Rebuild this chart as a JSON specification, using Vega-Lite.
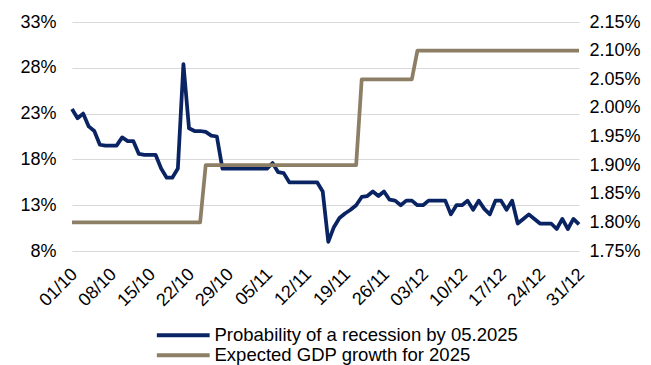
{
  "$schema": "https://vega.github.io/schema/vega-lite/v6.json",
  "width": 507,
  "height": 229,
  "autosize": {"type": "none"},
  "padding": {"left": 72, "top": 22, "right": 72, "bottom": 114},
  "background": "white",
  "config": {
    "view": {"stroke": null},
    "font": "Liberation Sans",
    "axis": {"labelFont": "Liberation Sans", "labelFontSize": 18, "labelColor": "#000000", "title": null, "ticks": false}
  },
  "data": {
    "values": [
      {"d": "2024/10/01", "rec": 23.5, "gdp": 1.80},
      {"d": "2024/10/02", "rec": 22.5, "gdp": 1.80},
      {"d": "2024/10/03", "rec": 23.0, "gdp": 1.80},
      {"d": "2024/10/04", "rec": 21.6, "gdp": 1.80},
      {"d": "2024/10/05", "rec": 21.1, "gdp": 1.80},
      {"d": "2024/10/06", "rec": 19.6, "gdp": 1.80},
      {"d": "2024/10/07", "rec": 19.5, "gdp": 1.80},
      {"d": "2024/10/08", "rec": 19.5, "gdp": 1.80},
      {"d": "2024/10/09", "rec": 19.5, "gdp": 1.80},
      {"d": "2024/10/10", "rec": 20.4, "gdp": 1.80},
      {"d": "2024/10/11", "rec": 20.0, "gdp": 1.80},
      {"d": "2024/10/12", "rec": 20.0, "gdp": 1.80},
      {"d": "2024/10/13", "rec": 18.6, "gdp": 1.80},
      {"d": "2024/10/14", "rec": 18.5, "gdp": 1.80},
      {"d": "2024/10/15", "rec": 18.5, "gdp": 1.80},
      {"d": "2024/10/16", "rec": 18.5, "gdp": 1.80},
      {"d": "2024/10/17", "rec": 17.0, "gdp": 1.80},
      {"d": "2024/10/18", "rec": 16.0, "gdp": 1.80},
      {"d": "2024/10/19", "rec": 16.0, "gdp": 1.80},
      {"d": "2024/10/20", "rec": 17.0, "gdp": 1.80},
      {"d": "2024/10/21", "rec": 28.4, "gdp": 1.80},
      {"d": "2024/10/22", "rec": 21.4, "gdp": 1.80},
      {"d": "2024/10/23", "rec": 21.1, "gdp": 1.80},
      {"d": "2024/10/24", "rec": 21.1, "gdp": 1.80},
      {"d": "2024/10/25", "rec": 21.0, "gdp": 1.90},
      {"d": "2024/10/26", "rec": 20.6, "gdp": 1.90},
      {"d": "2024/10/27", "rec": 20.5, "gdp": 1.90},
      {"d": "2024/10/28", "rec": 17.0, "gdp": 1.90},
      {"d": "2024/10/29", "rec": 17.0, "gdp": 1.90},
      {"d": "2024/10/30", "rec": 17.0, "gdp": 1.90},
      {"d": "2024/10/31", "rec": 17.0, "gdp": 1.90},
      {"d": "2024/11/01", "rec": 17.0, "gdp": 1.90},
      {"d": "2024/11/02", "rec": 17.0, "gdp": 1.90},
      {"d": "2024/11/03", "rec": 17.0, "gdp": 1.90},
      {"d": "2024/11/04", "rec": 17.0, "gdp": 1.90},
      {"d": "2024/11/05", "rec": 17.0, "gdp": 1.90},
      {"d": "2024/11/06", "rec": 17.6, "gdp": 1.90},
      {"d": "2024/11/07", "rec": 16.6, "gdp": 1.90},
      {"d": "2024/11/08", "rec": 16.5, "gdp": 1.90},
      {"d": "2024/11/09", "rec": 15.5, "gdp": 1.90},
      {"d": "2024/11/10", "rec": 15.5, "gdp": 1.90},
      {"d": "2024/11/11", "rec": 15.5, "gdp": 1.90},
      {"d": "2024/11/12", "rec": 15.5, "gdp": 1.90},
      {"d": "2024/11/13", "rec": 15.5, "gdp": 1.90},
      {"d": "2024/11/14", "rec": 15.5, "gdp": 1.90},
      {"d": "2024/11/15", "rec": 14.5, "gdp": 1.90},
      {"d": "2024/11/16", "rec": 9.0, "gdp": 1.90},
      {"d": "2024/11/17", "rec": 10.6, "gdp": 1.90},
      {"d": "2024/11/18", "rec": 11.6, "gdp": 1.90},
      {"d": "2024/11/19", "rec": 12.1, "gdp": 1.90},
      {"d": "2024/11/20", "rec": 12.5, "gdp": 1.90},
      {"d": "2024/11/21", "rec": 13.0, "gdp": 1.90},
      {"d": "2024/11/22", "rec": 13.9, "gdp": 2.05},
      {"d": "2024/11/23", "rec": 14.0, "gdp": 2.05},
      {"d": "2024/11/24", "rec": 14.5, "gdp": 2.05},
      {"d": "2024/11/25", "rec": 14.0, "gdp": 2.05},
      {"d": "2024/11/26", "rec": 14.5, "gdp": 2.05},
      {"d": "2024/11/27", "rec": 13.6, "gdp": 2.05},
      {"d": "2024/11/28", "rec": 13.5, "gdp": 2.05},
      {"d": "2024/11/29", "rec": 13.0, "gdp": 2.05},
      {"d": "2024/11/30", "rec": 13.5, "gdp": 2.05},
      {"d": "2024/12/01", "rec": 13.5, "gdp": 2.05},
      {"d": "2024/12/02", "rec": 13.0, "gdp": 2.10},
      {"d": "2024/12/03", "rec": 13.0, "gdp": 2.10},
      {"d": "2024/12/04", "rec": 13.5, "gdp": 2.10},
      {"d": "2024/12/05", "rec": 13.5, "gdp": 2.10},
      {"d": "2024/12/06", "rec": 13.5, "gdp": 2.10},
      {"d": "2024/12/07", "rec": 13.5, "gdp": 2.10},
      {"d": "2024/12/08", "rec": 12.0, "gdp": 2.10},
      {"d": "2024/12/09", "rec": 13.0, "gdp": 2.10},
      {"d": "2024/12/10", "rec": 13.0, "gdp": 2.10},
      {"d": "2024/12/11", "rec": 13.5, "gdp": 2.10},
      {"d": "2024/12/12", "rec": 12.5, "gdp": 2.10},
      {"d": "2024/12/13", "rec": 13.5, "gdp": 2.10},
      {"d": "2024/12/14", "rec": 12.6, "gdp": 2.10},
      {"d": "2024/12/15", "rec": 12.0, "gdp": 2.10},
      {"d": "2024/12/16", "rec": 13.5, "gdp": 2.10},
      {"d": "2024/12/17", "rec": 13.5, "gdp": 2.10},
      {"d": "2024/12/18", "rec": 12.5, "gdp": 2.10},
      {"d": "2024/12/19", "rec": 13.5, "gdp": 2.10},
      {"d": "2024/12/20", "rec": 11.0, "gdp": 2.10},
      {"d": "2024/12/21", "rec": 11.5, "gdp": 2.10},
      {"d": "2024/12/22", "rec": 12.0, "gdp": 2.10},
      {"d": "2024/12/23", "rec": 11.5, "gdp": 2.10},
      {"d": "2024/12/24", "rec": 11.0, "gdp": 2.10},
      {"d": "2024/12/25", "rec": 11.0, "gdp": 2.10},
      {"d": "2024/12/26", "rec": 11.0, "gdp": 2.10},
      {"d": "2024/12/27", "rec": 10.4, "gdp": 2.10},
      {"d": "2024/12/28", "rec": 11.5, "gdp": 2.10},
      {"d": "2024/12/29", "rec": 10.4, "gdp": 2.10},
      {"d": "2024/12/30", "rec": 11.5, "gdp": 2.10},
      {"d": "2024/12/31", "rec": 10.9, "gdp": 2.10}
    ]
  },
  "encoding": {
    "x": {
      "field": "d",
      "type": "temporal",
      "scale": {"domain": [{"year": 2024, "month": 10, "date": 1}, {"year": 2024, "month": 12, "date": 31}], "nice": false},
      "axis": {
        "values": [
          {"year": 2024, "month": 10, "date": 1},
          {"year": 2024, "month": 10, "date": 8},
          {"year": 2024, "month": 10, "date": 15},
          {"year": 2024, "month": 10, "date": 22},
          {"year": 2024, "month": 10, "date": 29},
          {"year": 2024, "month": 11, "date": 5},
          {"year": 2024, "month": 11, "date": 12},
          {"year": 2024, "month": 11, "date": 19},
          {"year": 2024, "month": 11, "date": 26},
          {"year": 2024, "month": 12, "date": 3},
          {"year": 2024, "month": 12, "date": 10},
          {"year": 2024, "month": 12, "date": 17},
          {"year": 2024, "month": 12, "date": 24},
          {"year": 2024, "month": 12, "date": 31}
        ],
        "format": "%d/%m",
        "labelAngle": -45,
        "grid": false,
        "domain": false,
        "labelPadding": 14,
        "labelOffset": -4,
        "labelFlush": false,
        "labelOverlap": false
      }
    }
  },
  "layer": [
    {
      "mark": {"type": "rule", "color": "#bfbfbf", "strokeWidth": 1.5},
      "encoding": {"y": {"datum": 8, "type": "quantitative", "scale": {"domain": [8, 33]}, "axis": null}}
    },
    {
      "mark": {"type": "line", "strokeWidth": 3.75, "strokeJoin": "round"},
      "encoding": {
        "y": {
          "field": "rec",
          "type": "quantitative",
          "scale": {"domain": [8, 33], "nice": false, "zero": false},
          "axis": {
            "values": [8, 13, 18, 23, 28, 33],
            "labelExpr": "datum.value + '%'",
            "grid": true,
            "gridColor": "#d9d9d9",
            "gridWidth": 1,
            "domain": false,
            "labelPadding": 16
          }
        },
        "color": {
          "datum": "Probability of a recession by 05.2025",
          "type": "nominal",
          "scale": {"domain": ["Probability of a recession by 05.2025", "Expected GDP growth for 2025"], "range": ["#0a2463", "#8c7f66"]},
          "legend": {
            "orient": "none",
            "legendX": 102,
            "legendY": 304,
            "direction": "vertical",
            "title": null,
            "symbolType": "M-4.8,0H4.8",
            "symbolSize": 121,
            "symbolStrokeWidth": 4,
            "labelFont": "Liberation Sans",
            "labelFontSize": 18.5,
            "labelColor": "#000000",
            "labelOffset": 22,
            "rowPadding": 1,
            "labelLimit": 500
          }
        }
      }
    },
    {
      "mark": {"type": "line", "strokeWidth": 3.75, "strokeJoin": "round"},
      "encoding": {
        "y": {
          "field": "gdp",
          "type": "quantitative",
          "scale": {"domain": [1.75, 2.15], "nice": false, "zero": false},
          "axis": {
            "orient": "right",
            "values": [1.75, 1.8, 1.85, 1.9, 1.95, 2.0, 2.05, 2.1, 2.15],
            "labelExpr": "format(datum.value, '.2f') + '%'",
            "grid": false,
            "domain": false,
            "labelPadding": 10
          }
        },
        "color": {"datum": "Expected GDP growth for 2025", "type": "nominal"}
      }
    }
  ],
  "resolve": {"scale": {"y": "independent"}}
}
